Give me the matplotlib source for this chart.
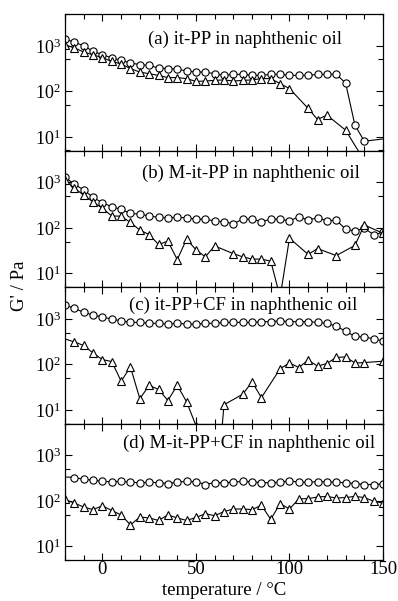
import numpy as np
import matplotlib
matplotlib.use("Agg")
import matplotlib.pyplot as plt
from matplotlib.ticker import LogLocator, MultipleLocator, FixedLocator, LogFormatterMathtext, NullFormatter

plt.rcParams['font.family'] = ['Liberation Serif', 'DejaVu Serif']
plt.rcParams['mathtext.fontset'] = 'stix'

# ---------------- data ----------------
panel_labels = ["(a) it-PP in naphthenic oil",
                "(b) M-it-PP in naphthenic oil",
                "(c) it-PP+CF in naphthenic oil",
                "(d) M-it-PP+CF in naphthenic oil"]

# (a)
a_circ_T = [-20, -15, -10, -5, 0, 5, 10, 15, 20, 25, 30, 35, 40, 45, 50, 55, 60, 65, 70, 75,
            80, 85, 90, 95, 100, 105, 110, 115, 120, 125, 130, 135, 140, 155]
a_circ_G = [1400, 1200, 1000, 760, 635, 545, 480, 420, 385, 370, 325, 315, 305, 280, 265, 265, 243, 224, 236, 236,
            224, 224, 236, 236, 224, 224, 224, 236, 236, 236, 152, 18, 8, 9.5]
a_tri_T = [-20, -15, -10, -5, 0, 5, 10, 15, 20, 25, 30, 35, 40, 45, 50, 55, 60, 65, 70, 75,
           80, 85, 90, 95, 100, 110, 115, 120, 130, 140]
a_tri_G = [1050, 900, 730, 635, 545, 455, 400, 315, 265, 243, 224, 200, 200, 190, 165, 168, 174, 178, 168, 174,
           178, 190, 190, 147, 115, 42, 24, 30, 14, 3]

# (b)
b_circ_T = [-20, -15, -10, -5, 0, 5, 10, 15, 20, 25, 30, 35, 40, 45, 50, 55, 60, 65, 70, 75,
            80, 85, 90, 95, 100, 105, 110, 115, 120, 125, 130, 135, 140, 145, 150]
b_circ_G = [1290, 910, 680, 465, 355, 290, 255, 207, 200, 182, 170, 166, 170, 166, 155, 155, 141, 136, 123, 155,
            155, 136, 155, 155, 142, 174, 148, 166, 142, 148, 93, 85, 97, 71, 79]
b_tri_T = [-20, -15, -10, -5, 0, 5, 10, 15, 20, 25, 30, 35, 40, 45, 50, 55, 60, 70, 75, 80,
           85, 90, 95, 100, 110, 115, 125, 135, 140, 150]
b_tri_G = [1120, 740, 525, 370, 268, 182, 180, 131, 89, 71, 43, 51, 20, 56, 33, 23, 40, 27, 23, 20.5,
           20.5, 18.5, 3, 59, 26, 35, 24.5, 41, 115, 76]

# (c)
c_circ_T = [-20, -15, -10, -5, 0, 5, 10, 15, 20, 25, 30, 35, 40, 45, 50, 55, 60, 65, 70, 75,
            80, 85, 90, 95, 100, 105, 110, 115, 120, 125, 130, 135, 140, 145, 150]
c_circ_G = [2000, 1690, 1390, 1210, 1100, 980, 905, 835, 835, 795, 795, 765, 795, 765, 765, 795, 795, 835, 835, 835,
            835, 865, 865, 905, 865, 865, 865, 835, 795, 690, 535, 410, 395, 365, 325]
c_tri_T = [-25, -15, -10, -5, 0, 5, 10, 15, 20, 25, 30, 35, 40, 45, 50, 55, 60, 65, 75, 80,
           85, 95, 100, 105, 110, 115, 120, 125, 130, 135, 140, 150]
c_tri_G = [420, 310, 259, 177, 127, 115, 42.5, 87, 17.5, 34.5, 28, 16, 34.5, 15, 4.5, 1, 0.05, 12.9, 22, 41,
           18.5, 80, 107, 85, 124, 91, 104, 142, 145, 107, 109, 117]

# (d)
d_circ_T = [-25, -15, -10, -5, 0, 5, 10, 15, 20, 25, 30, 35, 40, 45, 50, 55, 60, 65, 70, 75,
            80, 85, 90, 95, 100, 105, 110, 115, 120, 125, 130, 135, 140, 145, 150]
d_circ_G = [345, 325, 296, 285, 268, 262, 268, 256, 250, 256, 250, 240, 256, 268, 262, 228, 250, 250, 256, 268,
            262, 250, 250, 256, 276, 256, 256, 262, 262, 256, 250, 240, 228, 228, 235]
d_tri_T = [-20, -15, -10, -5, 0, 5, 10, 15, 20, 25, 30, 35, 40, 45, 50, 55, 60, 65, 70, 75,
           80, 85, 90, 95, 100, 105, 110, 115, 120, 125, 130, 135, 140, 145, 150]
d_tri_G = [107, 89, 73, 64, 78, 61, 49, 29.5, 44, 42, 37, 49, 42, 37, 43, 52, 47, 58, 66, 66,
           64, 80, 39, 87, 66, 110, 112, 121, 125, 115, 118, 125, 118, 98, 89]

circ_T = [a_circ_T, b_circ_T, c_circ_T, d_circ_T]
circ_G = [a_circ_G, b_circ_G, c_circ_G, d_circ_G]
tri_T = [a_tri_T, b_tri_T, c_tri_T, d_tri_T]
tri_G = [a_tri_G, b_tri_G, c_tri_G, d_tri_G]

x_ticks = [0, 50, 100, 150]
y_ticks = [10, 100, 1000]

# ---------------- layout ----------------
W, H = 398, 601
fig = plt.figure(figsize=(W / 100, H / 100), dpi=100)
left_px, right_px = 65, 383
top_px, bot_px = 14, 560
ph = (bot_px - top_px) / 4.0

label_pos = [(0.261, 0.817), (0.242, 0.829), (0.201, 0.868), (0.182, 0.856)]

for i in range(4):
    y0 = top_px + ph * (i + 1)
    ax = fig.add_axes([left_px / W, 1 - y0 / H, (right_px - left_px) / W, ph / H])
    ax.set_xlim(-20, 150)
    ax.set_yscale('log')
    ax.set_ylim(5, 5000)
    ax.plot(circ_T[i], circ_G[i], color='black', lw=0.8, marker='o', ms=5.2,
            mfc='white', mec='black', mew=0.8)
    ax.plot(tri_T[i], tri_G[i], color='black', lw=0.8, marker='^', ms=5.8,
            mfc='white', mec='black', mew=0.8)
    ax.xaxis.set_major_locator(FixedLocator(x_ticks))
    ax.xaxis.set_minor_locator(MultipleLocator(10))
    ax.yaxis.set_major_locator(FixedLocator(y_ticks))
    ax.yaxis.set_major_formatter(LogFormatterMathtext())
    ax.yaxis.set_minor_locator(LogLocator(base=10, subs=[5], numticks=10))
    ax.yaxis.set_minor_formatter(NullFormatter())
    ax.tick_params(which='both', direction='in', top=True, right=True, width=0.8)
    ax.tick_params(which='major', length=5)
    ax.tick_params(which='minor', length=3.5)
    ax.tick_params(axis='y', labelsize=13, pad=3)
    ax.tick_params(axis='x', labelsize=13.5, pad=0.5)
    for s in ax.spines.values():
        s.set_linewidth(0.9)
    if i < 3:
        ax.tick_params(axis='x', labelbottom=False)
    else:
        ax.set_xlabel("temperature / °C", fontsize=13.5, labelpad=3)
    lx, ly = label_pos[i]
    ax.text(lx, ly, panel_labels[i], transform=ax.transAxes, ha='left', va='center',
            fontsize=13.5)

fig.text(0.048, 0.524, "G' / Pa", rotation=90, ha='center', va='center', fontsize=13.5)

fig.savefig("out.png", dpi=100)
